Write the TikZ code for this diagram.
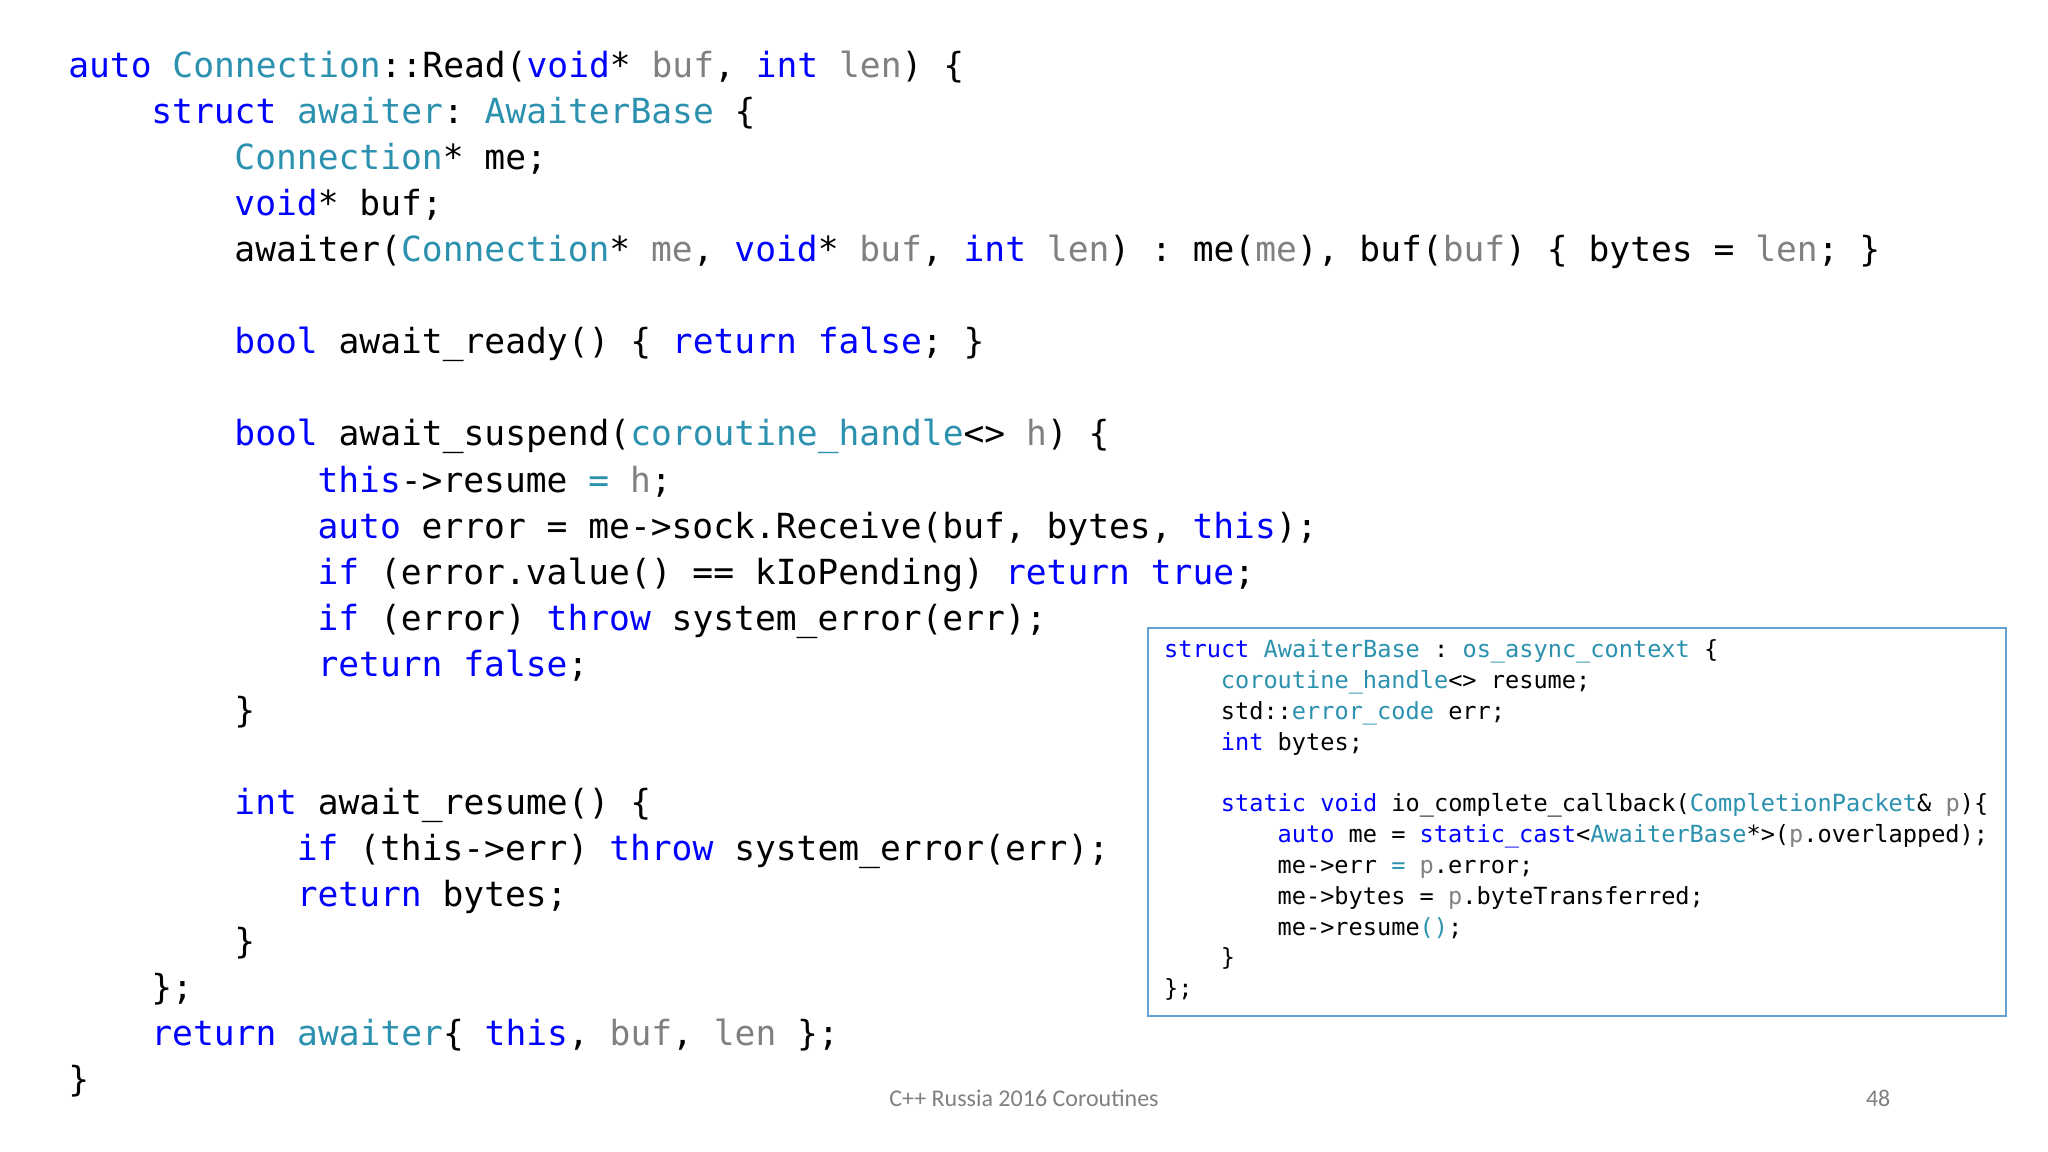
\documentclass[tikz,border=0pt]{standalone}
\usepackage{fontspec}
\setmonofont{DejaVu Sans Mono}
\newfontfamily\footfont{Carlito}
\definecolor{kwc}{RGB}{0,0,255}
\definecolor{tyc}{RGB}{43,145,175}
\definecolor{pac}{RGB}{128,128,128}
\definecolor{boxc}{RGB}{100,160,210}
\newcommand{\kw}[1]{\textcolor{kwc}{#1}}
\newcommand{\ty}[1]{\textcolor{tyc}{#1}}
\newcommand{\pa}[1]{\textcolor{pac}{#1}}
\begin{document}
\begin{tikzpicture}[x=0.653pt,y=-0.653pt,
  mainline/.style={anchor=base west,inner sep=0pt,font=\ttfamily\fontsize{17.3pt}{20pt}\selectfont},
  boxline/.style={anchor=base west,inner sep=0pt,font=\ttfamily\fontsize{11.8pt}{14pt}\selectfont},
  foot/.style={inner sep=0pt,text=pac,font=\footfont\fontsize{12pt}{14pt}\selectfont}]
\useasboundingbox[fill=white] (0,0) rectangle (1568,882);
\def\mx#1{52+15.9*#1}
\def\my#1{59+35.3*#1}
\node[mainline] (m0) at ({\mx{0}},{\my{0}}) {\kw{auto} \ty{Connection}::Read(\kw{void}* \pa{buf}, \kw{int} \pa{len}) \{};
\node[mainline] (m1) at ({\mx{4}},{\my{1}}) {\kw{struct} \ty{awaiter}: \ty{AwaiterBase} \{};
\node[mainline] (m2) at ({\mx{8}},{\my{2}}) {\ty{Connection}* me;};
\node[mainline] (m3) at ({\mx{8}},{\my{3}}) {\kw{void}* buf;};
\node[mainline] (m4) at ({\mx{8}},{\my{4}}) {awaiter(\ty{Connection}* \pa{me}, \kw{void}* \pa{buf}, \kw{int} \pa{len}) : me(\pa{me}), buf(\pa{buf}) \{ bytes = \pa{len}; \}};
\node[mainline] (m6) at ({\mx{8}},{\my{6}}) {\kw{bool} await\_ready() \{ \kw{return} \kw{false}; \}};
\node[mainline] (m8) at ({\mx{8}},{\my{8}}) {\kw{bool} await\_suspend(\ty{coroutine\_handle}<> \pa{h}) \{};
\node[mainline] (m9) at ({\mx{12}},{\my{9}}) {\kw{this}->resume \ty{=} \pa{h};};
\node[mainline] (m10) at ({\mx{12}},{\my{10}}) {\kw{auto} error = me->sock.Receive(buf, bytes, \kw{this});};
\node[mainline] (m11) at ({\mx{12}},{\my{11}}) {\kw{if} (error.value() == kIoPending) \kw{return} \kw{true};};
\node[mainline] (m12) at ({\mx{12}},{\my{12}}) {\kw{if} (error) \kw{throw} system\_error(err);};
\node[mainline] (m13) at ({\mx{12}},{\my{13}}) {\kw{return} \kw{false};};
\node[mainline] (m14) at ({\mx{8}},{\my{14}}) {\}};
\node[mainline] (m16) at ({\mx{8}},{\my{16}}) {\kw{int} await\_resume() \{};
\node[mainline] (m17) at ({\mx{11}},{\my{17}}) {\kw{if} (this->err) \kw{throw} system\_error(err);};
\node[mainline] (m18) at ({\mx{11}},{\my{18}}) {\kw{return} bytes;};
\node[mainline] (m19) at ({\mx{8}},{\my{19}}) {\}};
\node[mainline] (m20) at ({\mx{4}},{\my{20}}) {\};};
\node[mainline] (m21) at ({\mx{4}},{\my{21}}) {\kw{return} \ty{awaiter}\{ \kw{this}, \pa{buf}, \pa{len} \};};
\node[mainline] (m22) at ({\mx{0}},{\my{22}}) {\}};
\draw[boxc,line width=1pt] (879,481) rectangle (1536,778);
\def\bx#1{891+10.86*#1}
\def\by#1{503.5+23.6*#1}
\node[boxline] (b0) at ({\bx{0}},{\by{0}}) {\kw{struct} \ty{AwaiterBase} : \ty{os\_async\_context} \{};
\node[boxline] (b1) at ({\bx{4}},{\by{1}}) {\ty{coroutine\_handle}<> resume;};
\node[boxline] (b2) at ({\bx{4}},{\by{2}}) {std::\ty{error\_code} err;};
\node[boxline] (b3) at ({\bx{4}},{\by{3}}) {\kw{int} bytes;};
\node[boxline] (b5) at ({\bx{4}},{\by{5}}) {\kw{static} \kw{void} io\_complete\_callback(\ty{CompletionPacket}\& \pa{p})\{};
\node[boxline] (b6) at ({\bx{8}},{\by{6}}) {\kw{auto} me = \kw{static\_cast}<\ty{AwaiterBase}*>(\pa{p}.overlapped);};
\node[boxline] (b7) at ({\bx{8}},{\by{7}}) {me->err \ty{=} \pa{p}.error;};
\node[boxline] (b8) at ({\bx{8}},{\by{8}}) {me->bytes = \pa{p}.byteTransferred;};
\node[boxline] (b9) at ({\bx{8}},{\by{9}}) {me->resume\ty{()};};
\node[boxline] (b10) at ({\bx{4}},{\by{10}}) {\}};
\node[boxline] (b11) at ({\bx{0}},{\by{11}}) {\};};
\node[foot] (f1) at (784,841) {C++ Russia 2016 Coroutines};
\node[foot] (f2) at (1438,841) {48};
\end{tikzpicture}
\end{document}
